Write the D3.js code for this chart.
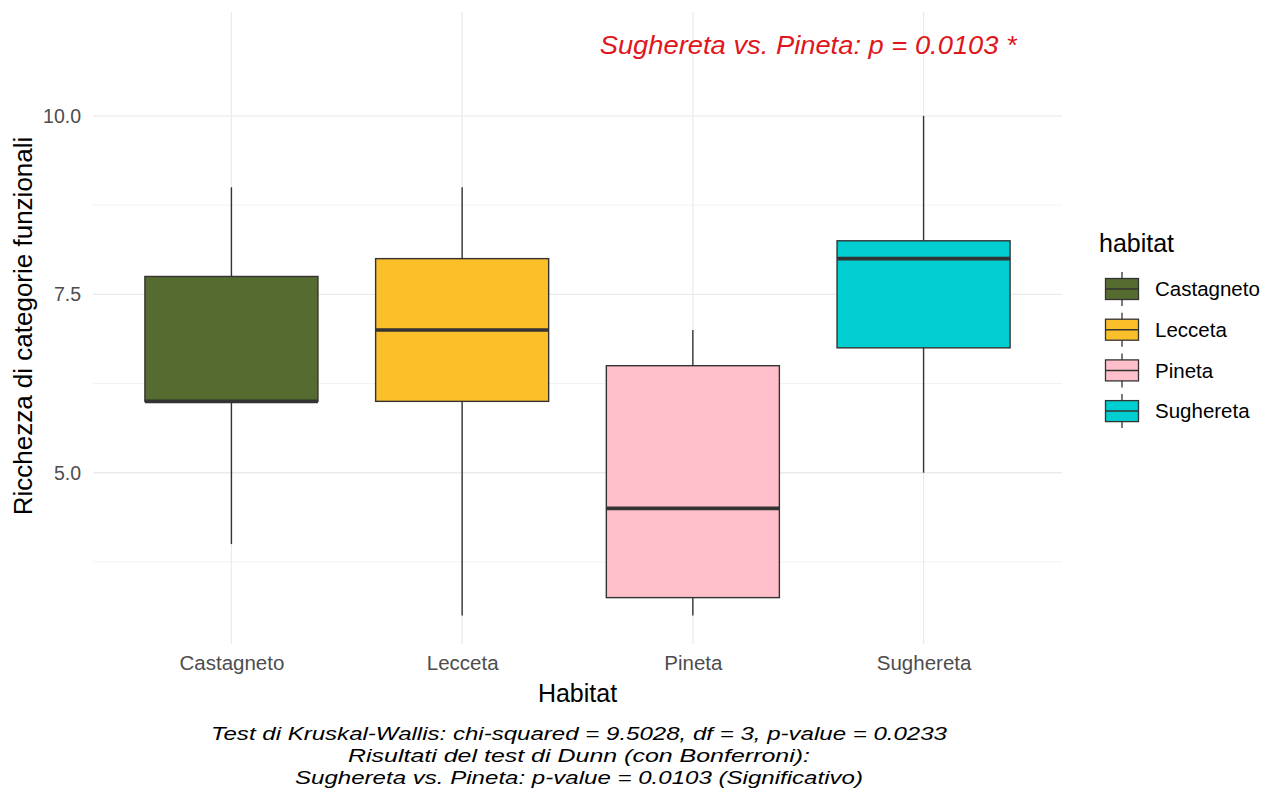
<!DOCTYPE html>
<html>
<head>
<meta charset="utf-8">
<script src="https://cdn.jsdelivr.net/npm/d3@7"></script>
<style>
  body { margin: 0; background: #fff; }
  svg { font-family: "Liberation Sans", Arial, sans-serif; }
  .tick text { fill: #4d4d4d; }
</style>
</head>
<body>
<svg id="chart" width="1267" height="797"></svg>
<script>
// box stats per habitat
const habitats = ["Castagneto", "Lecceta", "Pineta", "Sughereta"];
const whiskerLow = [4, 3, 3, 5];
const q1 = [6, 6, 3.25, 6.75];
const medians = [6, 7, 4.5, 8];
const q3 = [7.75, 8, 6.5, 8.25];
const whiskerHigh = [9, 9, 7, 10];
const fills = ["#556b2f", "#fbbf2a", "#ffc0cb", "#00ced1"];

const yTicks = [5, 7.5, 10];
const yMinor = [3.75, 6.25, 8.75];

const annotText = "Sughereta vs. Pineta: p = 0.0103 *";
const annotPos = [3.5, 11];
const captionLines = [
  "Test di Kruskal-Wallis: chi-squared = 9.5028, df = 3, p-value = 0.0233",
  "Risultati del test di Dunn (con Bonferroni):",
  "Sughereta vs. Pineta: p-value = 0.0103 (Significativo)"
];
// rendered widths of the caption lines in the original
const captionWidths = [736, 462, 568];

const svg = d3.select("#chart");
const panel = { left: 93, right: 1062, top: 16, bottom: 644 };

const x = d3.scaleLinear().domain([0.4, 4.6]).range([panel.left, panel.right]);
const y = d3.scaleLinear().domain([2.6, 11.4]).range([panel.bottom, panel.top]);
const boxW = x(0.75) - x(0);

// grid
const grid = svg.append("g");
grid.selectAll(".minor").data(yMinor).enter().append("line")
  .attr("x1", panel.left).attr("x2", panel.right)
  .attr("y1", d => y(d)).attr("y2", d => y(d))
  .attr("stroke", "#f2f2f2").attr("stroke-width", 1);
grid.selectAll(".major").data(yTicks).enter().append("line")
  .attr("x1", panel.left).attr("x2", panel.right)
  .attr("y1", d => y(d)).attr("y2", d => y(d))
  .attr("stroke", "#ebebeb").attr("stroke-width", 1.3);
grid.selectAll(".vmajor").data(habitats).enter().append("line")
  .attr("x1", (d, i) => x(i + 1)).attr("x2", (d, i) => x(i + 1))
  .attr("y1", panel.top - 4).attr("y2", panel.bottom)
  .attr("stroke", "#ebebeb").attr("stroke-width", 1.3);

// boxes
const boxes = svg.append("g").selectAll("g").data(habitats).enter().append("g");
boxes.append("line")
  .attr("x1", (d, i) => x(i + 1)).attr("x2", (d, i) => x(i + 1))
  .attr("y1", (d, i) => y(whiskerHigh[i])).attr("y2", (d, i) => y(q3[i]))
  .attr("stroke", "#333").attr("stroke-width", 1.4);
boxes.append("line")
  .attr("x1", (d, i) => x(i + 1)).attr("x2", (d, i) => x(i + 1))
  .attr("y1", (d, i) => y(q1[i])).attr("y2", (d, i) => y(whiskerLow[i]))
  .attr("stroke", "#333").attr("stroke-width", 1.4);
boxes.append("rect")
  .attr("x", (d, i) => x(i + 1) - boxW / 2).attr("width", boxW)
  .attr("y", (d, i) => y(q3[i])).attr("height", (d, i) => y(q1[i]) - y(q3[i]))
  .attr("fill", (d, i) => fills[i])
  .attr("stroke", "#333").attr("stroke-width", 1.4);
boxes.append("line")
  .attr("x1", (d, i) => x(i + 1) - boxW / 2).attr("x2", (d, i) => x(i + 1) + boxW / 2)
  .attr("y1", (d, i) => y(medians[i])).attr("y2", (d, i) => y(medians[i]))
  .attr("stroke", "#333").attr("stroke-width", 3.6);

// axes
const yAxis = svg.append("g")
  .attr("transform", `translate(${panel.left - 9},0)`)
  .call(d3.axisLeft(y).tickValues(yTicks).tickFormat(d3.format(".1f")).tickSize(0).tickPadding(3));
yAxis.select(".domain").remove();
yAxis.selectAll("text").attr("font-size", 19.5).attr("dy", "0.34em");

const xAxis = svg.append("g")
  .attr("transform", `translate(0,${panel.bottom + 11})`)
  .call(d3.axisBottom(x).tickValues([1, 2, 3, 4]).tickFormat(d => habitats[d - 1]).tickSize(0).tickPadding(0));
xAxis.select(".domain").remove();
xAxis.selectAll("text").attr("font-size", 20.5).attr("dy", "0.71em");

svg.append("text")
  .attr("x", (panel.left + panel.right) / 2).attr("y", 702)
  .attr("text-anchor", "middle").attr("font-size", 25).attr("fill", "#000")
  .text("Habitat");

svg.append("text")
  .attr("transform", `translate(32,${(panel.top + panel.bottom) / 2 - 4}) rotate(-90)`)
  .attr("text-anchor", "middle").attr("font-size", 26).attr("fill", "#000")
  .text("Ricchezza di categorie funzionali");

// annotation
svg.append("text")
  .attr("x", x(annotPos[0])).attr("y", y(annotPos[1]))
  .attr("dy", "0.36em")
  .attr("text-anchor", "middle").attr("font-size", 26).attr("font-style", "italic")
  .attr("fill", "#e0161c")
  .attr("textLength", 417).attr("lengthAdjust", "spacingAndGlyphs")
  .text(annotText);

// caption
svg.append("g").selectAll("text").data(captionLines).enter().append("text")
  .attr("x", 579).attr("y", (d, i) => 740 + i * 22)
  .attr("text-anchor", "middle").attr("font-size", 19).attr("font-style", "italic")
  .attr("fill", "#000")
  .attr("textLength", (d, i) => captionWidths[i]).attr("lengthAdjust", "spacingAndGlyphs")
  .text(d => d);

// legend
const legend = svg.append("g");
legend.append("text")
  .attr("x", 1099).attr("y", 252)
  .attr("font-size", 25).attr("fill", "#000")
  .text("habitat");
const keyY = d3.scaleLinear().domain([0, 1]).range([289, 329.7]);
const keys = legend.selectAll(".key").data(habitats).enter().append("g")
  .attr("transform", (d, i) => `translate(1122,${keyY(i)})`);
keys.append("line").attr("y1", -17).attr("y2", 17)
  .attr("stroke", "#333").attr("stroke-width", 1.3);
keys.append("rect").attr("x", -16.5).attr("y", -10.5).attr("width", 33).attr("height", 21)
  .attr("fill", (d, i) => fills[i]).attr("stroke", "#333").attr("stroke-width", 1.3);
keys.append("line").attr("x1", -16.5).attr("x2", 16.5)
  .attr("stroke", "#333").attr("stroke-width", 1.5);
keys.append("text").attr("x", 33).attr("dy", "0.36em")
  .attr("font-size", 20.5).attr("fill", "#000")
  .text(d => d);
</script>
</body>
</html>
